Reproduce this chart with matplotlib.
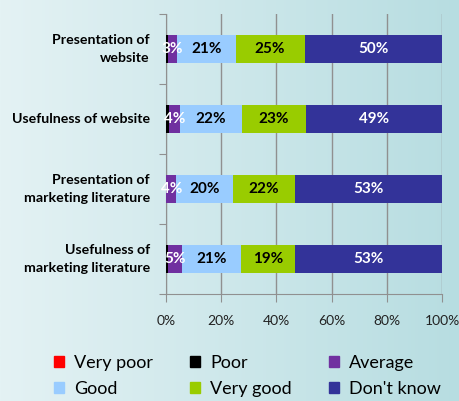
import numpy as np
import matplotlib
matplotlib.use('Agg')
import matplotlib.pyplot as plt
from matplotlib.patches import Patch
from matplotlib.colors import LinearSegmentedColormap

plt.rcParams['font.family'] = ['Lato', 'DejaVu Sans']

categories = ['Presentation of\nwebsite', 'Usefulness of website',
              'Presentation of\nmarketing literature', 'Usefulness of\nmarketing literature']
series = ['Very poor', 'Poor', 'Average', 'Good', 'Very good', "Don't know"]
very_poor = [0.0, 0.0, 0.0, 0.0]
poor = [0.9, 1.0, 0.0, 0.7]
average = [3.0, 4.2, 3.8, 5.2]
good = [21.3, 22.3, 20.5, 21.4]
very_good = [25.0, 23.2, 22.4, 19.3]
dont_know = [49.8, 49.3, 53.3, 53.3]
colors = ['#ff0000', '#000000', '#7030a0', '#99ccff', '#99cc00', '#333399']
label_colors = [None, None, 'white', 'black', 'black', 'white']

fig = plt.figure(figsize=(4.6, 4.01), dpi=100)

# background gradient
bg = fig.add_axes([0, 0, 1, 1], zorder=-10)
grad = np.linspace(0, 1, 256).reshape(1, -1)
cmap = LinearSegmentedColormap.from_list('bg', ['#e4f2f4', '#b7dde1'])
bg.imshow(grad, aspect='auto', cmap=cmap, extent=[0, 1, 0, 1])
bg.axis('off')

ax = fig.add_axes([166/460, 1-294/401, 276/460, 280/401])
ax.patch.set_alpha(0)

data = [very_poor, poor, average, good, very_good, dont_know]
y = np.arange(len(categories))
left = np.zeros(len(categories))
for vals, c, lc in zip(data, colors, label_colors):
    vals = np.array(vals)
    ax.barh(y, vals, left=left, height=0.4, color=c, zorder=3)
    if lc is not None:
        for yi, (l, v) in enumerate(zip(left, vals)):
            ax.text(l + v/2, yi, '%.0f%%' % v, ha='center', va='center',
                    color=lc, fontsize=11, fontweight='bold', zorder=4)
    left += vals

ax.set_ylim(len(categories) - 0.5, -0.5)
ax.set_xlim(0, 100)
ax.set_yticks(np.arange(-0.5, len(categories), 1))
ax.set_yticklabels([])
ax.tick_params(axis='y', length=5, color='#909090')
for yi, cat in enumerate(categories):
    ax.text(-5.8, yi, cat, ha='right', va='center', fontsize=10.2, fontweight='bold',
            linespacing=1.5)
ax.set_xticks(np.arange(0, 101, 20))
ax.set_xticklabels(['%d%%' % t for t in range(0, 101, 20)], fontsize=10, color='#222222')
ax.tick_params(axis='x', length=6, color='#909090', pad=9)
ax.grid(axis='x', color='#909090', linewidth=1, zorder=0)
for s in ['top', 'right']:
    ax.spines[s].set_visible(False)
for s in ['left', 'bottom']:
    ax.spines[s].set_color('#909090')

handles = [Patch(color=c) for c in colors]
order = [0, 3, 1, 4, 2, 5]
fig.legend([handles[i] for i in order], [series[i] for i in order], ncol=3,
           loc='center left', bbox_to_anchor=(0.118, 0.062), frameon=False, fontsize=13,
           handlelength=0.55, handleheight=0.55, handletextpad=0.55, columnspacing=2.05,
           labelspacing=0.55, borderaxespad=0, borderpad=0)

fig.savefig('out.png', dpi=100)
